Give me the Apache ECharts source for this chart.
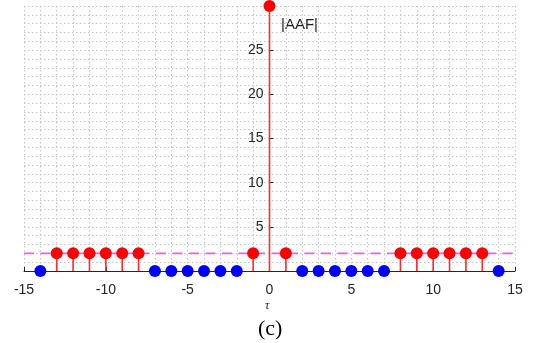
<!DOCTYPE html>
<html>
<head>
<meta charset="utf-8">
<script src="https://cdn.jsdelivr.net/npm/echarts@6/dist/echarts.min.js"></script>
<style>
html,body{margin:0;padding:0;background:#fff;}
#chart{width:535px;height:343px;}
</style>
</head>
<body>
<div id="chart"></div>
<script>
// Data
var tau = [-14,-13,-12,-11,-10,-9,-8,-7,-6,-5,-4,-3,-2,-1,0,1,2,3,4,5,6,7,8,9,10,11,12,13,14];
var aaf = [0,2,2,2,2,2,2,0,0,0,0,0,0,2,30,2,0,0,0,0,0,0,2,2,2,2,2,2,0];
var threshold = 2;
var xTicks = [-15,-10,-5,0,5,10,15];
var yTicks = [5,10,15,20,25];

var redPts = [], bluePts = [];
for (var i = 0; i < tau.length; i++) {
  if (aaf[i] > 0) redPts.push([tau[i], aaf[i]]);
  else bluePts.push([tau[i], aaf[i]]);
}
var thrLine = [[xTicks[0], threshold], [xTicks[xTicks.length-1], threshold]];

var font = '"Liberation Sans", Arial, sans-serif';
var serif = '"Liberation Serif", "Times New Roman", serif';
var axisColor = '#262626';
var gridStyle = {color: '#c4c4c4', width: 1, type: [1.5, 2.5]};

var gridLeft = 24, gridRight = 20, W = 535;
var xMin = -15, xMax = 15;
// shift the y axis so it sits at tau = 0
var yOffset = -((W - gridLeft - gridRight) * (0 - xMin) / (xMax - xMin));

var chart = echarts.init(document.getElementById('chart'));
chart.setOption({
  animation: false,
  grid: {left: gridLeft, right: gridRight, top: 6, bottom: 72, containLabel: false},
  xAxis: {
    type: 'value', min: xMin, max: xMax, interval: 5,
    axisLine: {show: true, onZero: false, lineStyle: {color: axisColor, width: 1}},
    axisTick: {show: true, inside: true, length: 4, lineStyle: {color: axisColor}},
    axisLabel: {show: true, margin: 12, fontSize: 14, color: axisColor, fontFamily: font},
    splitLine: {show: true, lineStyle: gridStyle},
    minorTick: {show: false, splitNumber: 5},
    minorSplitLine: {show: true, lineStyle: gridStyle}
  },
  yAxis: {
    type: 'value', min: 0, max: 30, interval: 5, position: 'left', offset: yOffset,
    axisLine: {show: true, onZero: false, lineStyle: {color: axisColor, width: 1}},
    axisTick: {show: true, inside: true, length: 4, lineStyle: {color: axisColor}},
    axisLabel: {show: true, margin: 6, fontSize: 14, color: axisColor, fontFamily: font,
      formatter: function (v) { return yTicks.indexOf(v) >= 0 ? String(v) : ''; }},
    splitLine: {show: true, lineStyle: gridStyle},
    minorTick: {show: false, splitNumber: 5},
    minorSplitLine: {show: true, lineStyle: gridStyle}
  },
  series: [
    {
      type: 'line', data: thrLine, symbol: 'none', z: 2,
      lineStyle: {color: '#ee5ce8', width: 1.8, type: [10, 6.5]}
    },
    {
      type: 'bar', data: redPts, barWidth: 1.6, z: 3,
      itemStyle: {color: '#ff2a2a'}
    },
    {
      type: 'scatter', data: redPts, symbol: 'circle', symbolSize: 12, z: 5, clip: false,
      itemStyle: {color: '#ff0000', opacity: 1}
    },
    {
      type: 'scatter', data: bluePts, symbol: 'circle', symbolSize: 12, z: 5, clip: false,
      itemStyle: {color: '#0000ff', opacity: 1}
    }
  ],
  graphic: [
    {type: 'text', left: 281, top: 17, style: {text: '|AAF|', fontSize: 15, fontFamily: font, fill: '#222'}},
    {type: 'text', left: 265, top: 300, style: {text: 'τ', fontSize: 12, fontStyle: 'italic', fontFamily: serif, fill: '#222'}},
    {type: 'text', left: 258, top: 318, style: {text: '(c)', fontSize: 22, fontFamily: serif, fill: '#000'}}
  ]
});
</script>
</body>
</html>
